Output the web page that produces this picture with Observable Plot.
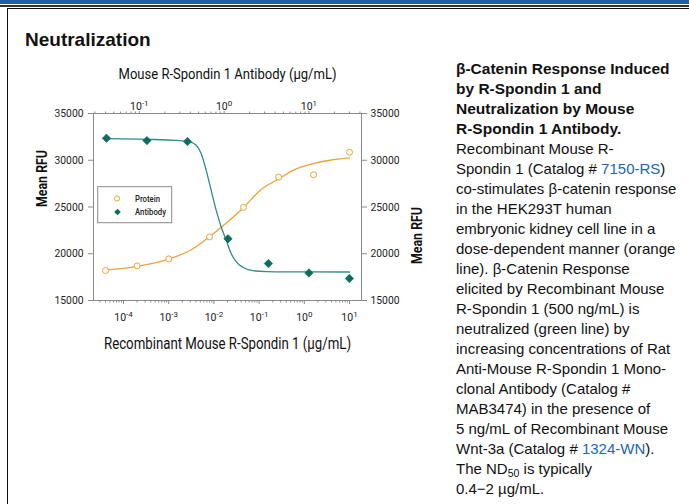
<!DOCTYPE html>
<html>
<head>
<meta charset="utf-8">
<script src="https://cdn.jsdelivr.net/npm/d3@7"></script>
<script src="https://cdn.jsdelivr.net/npm/@observablehq/plot@0.6"></script>
<style>
  html, body { margin: 0; padding: 0; background: #fff; }
  #page { position: relative; width: 689px; height: 504px; overflow: hidden; font-family: "Liberation Sans", Arial, sans-serif; }
  #bluebar { position: absolute; left: 0; top: 0; width: 689px; height: 4px; background: #1d5ea8; }
  #darkline { position: absolute; left: 0; top: 5px; width: 689px; height: 1.5px; background: #333; }
  #box { position: absolute; left: 7px; top: 8px; width: 700px; height: 520px; border-left: 1.5px solid #111; border-top: 1.5px solid #111; }
  #heading { position: absolute; left: 25px; top: 30px; font-size: 19px; font-weight: bold; line-height: 19px; color: #111; }
  #chart { position: absolute; left: 20px; top: 55px; }
  #desc { position: absolute; left: 456px; top: 59px; font-size: 15px; line-height: 20px; color: #111; white-space: nowrap; }
  #desc b { font-weight: bold; font-size: 15.5px; }
  #desc a { color: #2166b0; text-decoration: none; }
  #desc sub { font-size: 10.5px; vertical-align: -3px; line-height: 0; }
</style>
</head>
<body>
<div id="page">
  <div id="bluebar"></div>
  <div id="darkline"></div>
  <div id="box"></div>
  <div id="heading">Neutralization</div>
  <div id="chart"></div>
  <div id="desc">
    <b>β-Catenin Response Induced<br>by R-Spondin 1 and<br>Neutralization by Mouse<br>R-Spondin 1 Antibody.</b><br>
    Recombinant Mouse R-<br>
    Spondin 1 (Catalog # <a>7150-RS</a>)<br>
    co-stimulates β-catenin response<br>
    in the HEK293T human<br>
    embryonic kidney cell line in a<br>
    dose-dependent manner (orange<br>
    line). β-Catenin Response<br>
    elicited by Recombinant Mouse<br>
    R-Spondin 1 (500 ng/mL) is<br>
    neutralized (green line) by<br>
    increasing concentrations of Rat<br>
    Anti-Mouse R-Spondin 1 Mono-<br>
    clonal Antibody (Catalog #<br>
    MAB3474) in the presence of<br>
    5 ng/mL of Recombinant Mouse<br>
    Wnt-3a (Catalog # <a>1324-WN</a>).<br>
    The ND<sub>50</sub> is typically<br>
    0.4−2 µg/mL.
  </div>
</div>
<script>
// ---- Data ----
const proteinConc = [0.00004, 0.0002, 0.001, 0.008, 0.045, 0.27, 1.6, 10];
const proteinRFU  = [18200, 18700, 19450, 21800, 24950, 28200, 28450, 30850];

const antibodyConc = [0.041, 0.123, 0.37, 1.11, 3.33, 10, 30];
const antibodyRFU  = [32350, 32100, 32000, 21600, 18950, 17950, 17350];

// fitted curves as drawn in the reference (read point by point)
const proteinCurveConc = [0.00004, 0.0002, 0.001, 0.0032, 0.0077, 0.015, 0.045, 0.106, 0.27, 0.68, 1.6, 3.7, 10];
const proteinCurveRFU  = [18240, 18650, 19420, 20450, 21760, 22890, 24920, 26800, 28000, 29100, 29650, 30000, 30250];

const antibodyCurveConc = [0.0417, 0.126, 0.272, 0.374, 0.469, 0.536, 0.614, 0.703, 0.805, 0.923, 1.057, 1.208, 1.384, 1.66, 2.18, 3.12, 4.07, 10, 30];
const antibodyCurveRFU  = [32320, 32240, 32130, 32020, 31600, 30710, 28940, 26800, 24670, 22890, 21470, 20050, 19160, 18560, 18200, 18090, 18070, 18060, 18050];

// axes
const bottomTickExponents = [-4, -3, -2, -1, 0, 1];
const topTickExponents = [-1, 0, 1];
const yTicks = [15000, 20000, 25000, 30000, 35000];
const bottomLogDomain = [-4.664, 1.265];   // log10 of bottom axis extent
const topLogDomain = [-1.54, 1.62];        // log10 of top axis extent

const bottomTitle = "Recombinant Mouse R-Spondin 1 (µg/mL)";
const topTitle = "Mouse R-Spondin 1 Antibody (µg/mL)";
const yTitle = "Mean RFU";
const seriesNames = ["Protein", "Antibody"];

const orange = "#e9a236";
const tealLine = "#2f8c88";
const tealDot = "#0d6b60";
const axisGray = "#8a8a8a";

const K = (bottomLogDomain[1] - bottomLogDomain[0]) / (topLogDomain[1] - topLogDomain[0]);
// map a top-axis (antibody) concentration onto the shared x scale
function topToX(c) {
  return 10 ** (bottomLogDomain[0] + (Math.log10(c) - topLogDomain[0]) * K);
}

function minorTicks(lo, hi) {
  const out = [];
  for (let d = Math.floor(lo) - 1; d <= Math.ceil(hi); d++) {
    for (let m = 2; m <= 9; m++) {
      const l = d + Math.log10(m);
      if (l >= lo && l <= hi) out.push(m * 10 ** d);
    }
  }
  return out;
}

const protein = proteinConc.map((c, i) => ({x: c, y: proteinRFU[i]}));
const antibody = antibodyConc.map((c, i) => ({x: topToX(c), y: antibodyRFU[i]}));
const proteinCurve = proteinCurveConc.map((c, i) => ({x: c, y: proteinCurveRFU[i]}));
const antibodyCurve = antibodyCurveConc.map((c, i) => ({x: topToX(c), y: antibodyCurveRFU[i]}));

const bottomMajor = bottomTickExponents.map(e => 10 ** e);
const bottomMinor = minorTicks(bottomLogDomain[0], bottomLogDomain[1]);
const topMajorTicks = topTickExponents.map(e => ({x: topToX(10 ** e), label: "10^" + e}));
const topMinor = minorTicks(topLogDomain[0], topLogDomain[1]).map(topToX);

const fontStack = "Roboto, 'Liberation Sans', sans-serif";

const chart = Plot.plot({
  width: 420,
  height: 305,
  marginLeft: 73,
  marginRight: 79,
  marginTop: 58,
  marginBottom: 60,
  style: {fontFamily: fontStack, fontSize: "11px", color: "#222", background: "transparent"},
  x: {type: "log", domain: [10 ** bottomLogDomain[0], 10 ** bottomLogDomain[1]]},
  y: {domain: [15000, 35000]},
  marks: [
    Plot.frame({stroke: axisGray, strokeWidth: 1}),
    Plot.axisX({anchor: "bottom", ticks: bottomMajor, tickFormat: d => "10^" + Math.round(Math.log10(d)), tickSize: 4, tickPadding: 9, stroke: axisGray, fontSize: 10.5, label: null}),
    Plot.axisX({anchor: "bottom", ticks: bottomMinor, tickFormat: () => "", tickSize: 2.5, stroke: axisGray, label: null}),
    Plot.axisX({anchor: "top", ticks: topMajorTicks.map(d => d.x), tickFormat: () => "", tickSize: 3, stroke: axisGray, label: null}),
    Plot.axisX({anchor: "top", ticks: topMinor, tickFormat: () => "", tickSize: 2.5, stroke: axisGray, label: null}),
    Plot.text(topMajorTicks, {x: "x", text: "label", frameAnchor: "top", dy: -11, fontSize: 10.5, fill: "#222"}),
    Plot.axisY({anchor: "left", ticks: yTicks, tickFormat: d => String(d), tickSize: 5, tickPadding: 5, stroke: axisGray, fontSize: 11.5, label: null}),
    Plot.axisY({anchor: "right", ticks: yTicks, tickFormat: d => String(d), tickSize: 5, tickPadding: 4, stroke: axisGray, fontSize: 11.5, label: null}),
    Plot.text([bottomTitle], {text: d => d, frameAnchor: "bottom", dy: 48, fontSize: 16, fill: "#111"}),
    Plot.text([topTitle], {text: d => d, frameAnchor: "top", dy: -45, fontSize: 14.5, fill: "#111"}),
    Plot.text([yTitle], {text: d => d, frameAnchor: "left", dx: -51, rotate: -90, fontSize: 14, fontWeight: "bold", fill: "#111"}),
    Plot.text([yTitle], {text: d => d, frameAnchor: "right", dx: 56, rotate: -90, fontSize: 14, fontWeight: "bold", fill: "#111"}),
    Plot.line(proteinCurve, {x: "x", y: "y", stroke: orange, strokeWidth: 1.3, curve: "monotone-x"}),
    Plot.line(antibodyCurve, {x: "x", y: "y", stroke: tealLine, strokeWidth: 1.3, curve: "monotone-x"}),
    Plot.dot(protein, {x: "x", y: "y", r: 3, stroke: orange, strokeWidth: 1, fill: "white"}),
    Plot.dot(antibody, {x: "x", y: "y", r: 3.8, symbol: "diamond2", fill: tealDot, stroke: tealDot, strokeWidth: 0.6})
  ]
});

const svg = d3.select(chart);

// superscript exponents in tick labels; condensed titles
const titleLengths = new Map([[bottomTitle, 247], [topTitle, 218], [yTitle, 57]]);
svg.selectAll("text").each(function() {
  const s = this.textContent;
  const m = /^10\^(-?\d+)$/.exec(s);
  if (m) {
    const t = d3.select(this);
    t.text("10");
    t.append("tspan").attr("dy", "-0.45em").attr("font-size", "8px").text(m[1]);
  } else if (titleLengths.has(s)) {
    d3.select(this).attr("textLength", titleLengths.get(s)).attr("lengthAdjust", "spacingAndGlyphs");
  } else if (/^\d{5}$/.test(s)) {
    d3.select(this).attr("textLength", 29).attr("lengthAdjust", "spacingAndGlyphs");
  }
});

// legend
const lg = svg.append("g").attr("font-family", fontStack).attr("font-size", 9.5)
  .attr("font-weight", 500).attr("fill", "#222").attr("text-anchor", "start");
lg.append("rect").attr("x", 77.7).attr("y", 131.7).attr("width", 74).attr("height", 36)
  .attr("fill", "white").attr("stroke", axisGray).attr("stroke-width", 1);
lg.append("circle").attr("cx", 97).attr("cy", 143.5).attr("r", 2.6)
  .attr("fill", "white").attr("stroke", orange).attr("stroke-width", 1);
lg.append("path").attr("transform", "translate(97.5,157)")
  .attr("d", d3.symbol(d3.symbolDiamond2, 28)()).attr("fill", tealDot);
lg.append("text").attr("x", 115).attr("y", 147).attr("textLength", 25).attr("lengthAdjust", "spacingAndGlyphs").text(seriesNames[0]);
lg.append("text").attr("x", 115).attr("y", 160).attr("textLength", 31).attr("lengthAdjust", "spacingAndGlyphs").text(seriesNames[1]);

document.getElementById("chart").appendChild(chart);
</script>
</body>
</html>
